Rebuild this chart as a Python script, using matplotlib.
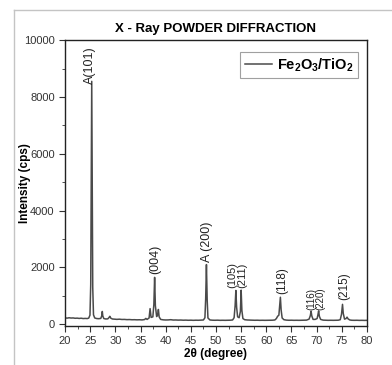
import matplotlib
matplotlib.use('Agg')
import matplotlib.pyplot as plt
from matplotlib.lines import Line2D
from matplotlib.ticker import MultipleLocator

plt.rcParams['font.family'] = ['Liberation Sans', 'DejaVu Sans']
plt.rcParams['mathtext.fontset'] = 'custom'
plt.rcParams['mathtext.rm'] = 'Liberation Sans'
plt.rcParams['mathtext.bf'] = 'Liberation Sans:bold'
plt.rcParams['mathtext.default'] = 'bf'

# pattern (2theta in degrees, intensity in cps)
two_theta = [20.0, 20.4, 20.8, 21.2, 21.6, 22.0, 22.4, 22.8, 23.2, 23.6, 24.0, 24.4, 24.7,
             24.95, 25.1, 25.2, 25.3, 25.4, 25.5, 25.65, 25.9, 26.3, 26.7, 27.1, 27.3, 27.4,
             27.5, 27.7, 28.1, 28.5, 28.75, 28.9, 29.05, 29.4, 29.8, 30.3, 30.8, 31.3, 31.8,
             32.3, 32.8, 33.3, 33.8, 34.3, 34.8, 35.3, 35.8, 36.05, 36.3, 36.7, 36.9, 37.1,
             37.45, 37.65, 37.8, 37.95, 38.2, 38.4, 38.55, 38.7, 39.0, 39.5, 40.0, 40.5, 41.0,
             41.5, 42.0, 42.5, 43.0, 43.5, 44.0, 44.5, 45.0, 45.5, 46.0, 46.5, 47.0, 47.5,
             47.8, 47.95, 48.1, 48.25, 48.4, 48.8, 49.3, 49.8, 50.3, 50.8, 51.3, 51.8, 52.3,
             52.8, 53.3, 53.6, 53.8, 53.95, 54.1, 54.3, 54.6, 54.85, 55.0, 55.15, 55.35, 55.7,
             56.2, 56.7, 57.2, 57.7, 58.2, 58.7, 59.2, 59.7, 60.2, 60.7, 61.2, 61.7, 62.0,
             62.25, 62.5, 62.65, 62.8, 62.95, 63.15, 63.5, 64.0, 64.5, 65.0, 65.5, 66.0, 66.5,
             67.0, 67.5, 68.0, 68.5, 68.75, 68.9, 69.05, 69.3, 69.7, 70.1, 70.25, 70.4, 70.55,
             70.8, 71.3, 71.8, 72.3, 72.8, 73.3, 73.8, 74.3, 74.7, 74.95, 75.15, 75.3, 75.55,
             75.85, 76.05, 76.25, 76.6, 77.0, 77.5, 78.0, 78.5, 79.0, 79.5, 80.0]
intensity = [225, 215, 228, 218, 222, 210, 215, 205, 212, 200, 205, 200, 215,
             320, 1400, 4800, 8550, 4600, 1300, 330, 220, 200, 195, 205, 300, 450,
             290, 200, 185, 190, 240, 280, 220, 185, 180, 172, 178, 168, 170,
             162, 165, 158, 160, 155, 158, 152, 165, 205, 170, 220, 550, 240,
             260, 700, 1650, 650, 270, 330, 520, 260, 170, 155, 150, 152, 160,
             148, 150, 145, 148, 142, 145, 140, 143, 138, 142, 140, 145, 150,
             230, 900, 2100, 850, 220, 150, 142, 140, 143, 138, 140, 138, 140,
             142, 150, 230, 650, 1190, 600, 260, 230, 450, 1200, 480, 200, 160,
             150, 145, 143, 140, 142, 138, 140, 138, 140, 140, 142, 150, 200,
             280, 320, 650, 950, 500, 220, 160, 145, 140, 142, 138, 140, 138,
             140, 142, 145, 180, 300, 460, 290, 170, 170, 200, 320, 470, 280,
             170, 145, 140, 138, 140, 138, 140, 142, 160, 350, 700, 380, 180,
             200, 250, 190, 150, 140, 138, 140, 136, 138, 135, 137]

peak_labels = ['A(101)', '(004)', 'A (200)', '(105)', '(211)', '(118)', '(116)', '(220)', '(215)']
label_x = [25.0, 37.9, 48.2, 53.3, 55.3, 63.1, 68.9, 70.7, 75.5]
label_y = [8450, 1780, 2200, 1290, 1290, 1080, 490, 490, 840]
label_size = [9, 9, 9, 8, 8, 8.5, 7, 7, 8.5]

fig = plt.figure(figsize=(3.92, 3.65), dpi=100)
ax = fig.add_axes([0.166, 0.107, 0.770, 0.783])

ax.plot(two_theta, intensity, color='#4a4a4a', linewidth=1.1, label=r'Fe$_2$O$_3$/TiO$_2$')

for lab, lx, ly, fs in zip(peak_labels, label_x, label_y, label_size):
    ax.text(lx, ly, lab, rotation=90, ha='center', va='bottom', fontsize=fs, color='#222222')

ax.set_xlim(20, 80)
ax.set_ylim(-60, 10000)
ax.xaxis.set_major_locator(MultipleLocator(5))
ax.xaxis.set_minor_locator(MultipleLocator(2.5))
ax.yaxis.set_major_locator(MultipleLocator(2000))
ax.yaxis.set_minor_locator(MultipleLocator(1000))
ax.tick_params(which='both', direction='out', labelsize=8, colors='#333333')
ax.tick_params(which='major', length=4)
ax.tick_params(which='minor', length=2.5)
for s in ax.spines.values():
    s.set_color('#222222')
    s.set_linewidth(1.0)

ax.set_title('X - Ray POWDER DIFFRACTION', fontsize=9.5, fontweight='bold', pad=6)
ax.set_xlabel('2θ (degree)', fontsize=8.5, fontweight='bold', labelpad=1)
ax.set_ylabel('Intensity (cps)', fontsize=8.5, fontweight='bold')
ax.yaxis.set_label_coords(-0.113, 0.5)

leg = ax.legend(loc='upper right', prop={'size': 10.5, 'weight': 'bold'},
                handlelength=1.9, handletextpad=0.3,
                fancybox=False, borderpad=0.3, borderaxespad=0,
                bbox_to_anchor=(0.970, 0.958))
leg.get_frame().set_edgecolor('#888888')
leg.get_frame().set_linewidth(0.8)

# light frame around the image
fig.add_artist(Line2D([14 / 392, 1], [1 - 10 / 365, 1 - 10 / 365], color='#c4c4c4', lw=1))
fig.add_artist(Line2D([14 / 392, 14 / 392], [0, 1 - 10 / 365], color='#c4c4c4', lw=1))

fig.savefig('out.png', dpi=100)
